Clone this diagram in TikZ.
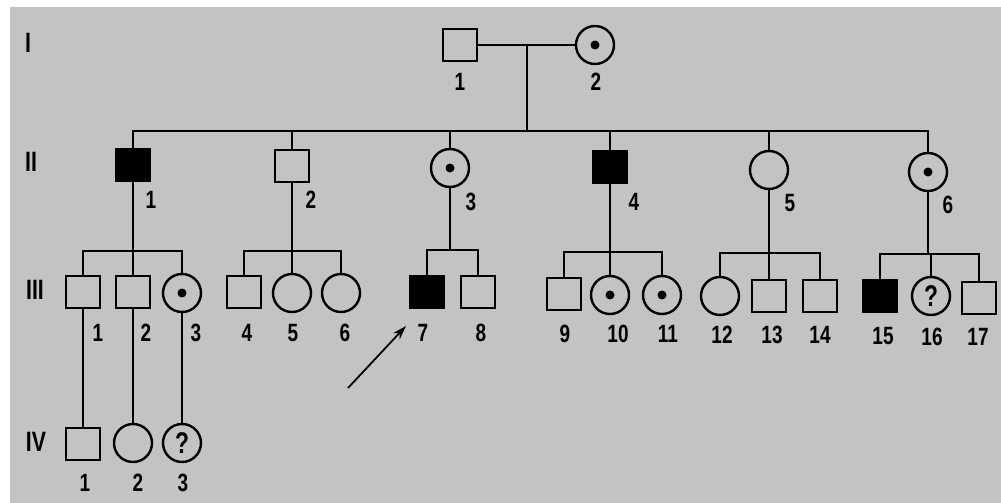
\documentclass[tikz,border=0pt]{standalone}
\usepackage{fontspec}
\usetikzlibrary{arrows.meta}
\newfontfamily\pedfont[FakeStretch=0.76]{Liberation Sans}
\definecolor{scangrey}{HTML}{C3C3C3}
\tikzset{person/.style = {draw, line width = 2.4pt, inner sep = 0pt},
    male/.style = {person, rectangle, minimum width = 34pt, minimum height = 32pt},
    female/.style = {person, circle, minimum size = 38pt},
    affected/.style = {fill = black},
    carrier/.style = {path picture = {\fill (path picture bounding box.center) circle (4.5pt);}},
    unknown/.style = {font = \pedfont\bfseries\fontsize{30}{30}\selectfont},
    link/.style = {line width = 1.8pt},
    thicklink/.style = {line width = 2.8pt},
    num/.style = {font = \pedfont\bfseries\fontsize{25}{25}\selectfont, inner sep = 0pt},
    gen/.style = {font = \pedfont\bfseries\fontsize{28}{28}\selectfont, inner sep = 0pt}
}

\begin{document}
\begin{tikzpicture}[x = 1pt, y = -1pt]

    \useasboundingbox (0,0) rectangle (1001,503);
    \fill[white] (0,0) rectangle (1001,503);
    \fill[scangrey] (10,7) rectangle (1001,503);

    % generation numbers
    \foreach \nm/\x/\y/\t in {gI/28/43/I, gII/31/162/II, gIII/35/290/III, gIV/36/442/IV}
        \node[gen] (\nm) at (\x,\y) {\t};

    % I
    \node[male] (I1) at (460,45) {};
    \node[female, carrier] (I2) at (595,45) {};

    % II
    \node[male, affected] (II1) at (133,165) {};
    \node[male] (II2) at (292,166) {};
    \node[female, carrier] (II3) at (450,168) {};
    \node[male, affected] (II4) at (610,167) {};
    \node[female] (II5) at (769,170) {};
    \node[female, carrier] (II6) at (928,172) {};

    % III
    \node[male] (III1) at (83,292) {};
    \node[male] (III2) at (133,292) {};
    \node[female, carrier] (III3) at (182,293) {};
    \node[male] (III4) at (244,292) {};
    \node[female] (III5) at (292,293) {};
    \node[female] (III6) at (341,293) {};
    \node[male, affected] (III7) at (427,292) {};
    \node[male] (III8) at (478,292) {};
    \node[male] (III9) at (564,294) {};
    \node[female, carrier] (III10) at (610,295) {};
    \node[female, carrier] (III11) at (662,295) {};
    \node[female] (III12) at (720,296) {};
    \node[male] (III13) at (769,296) {};
    \node[male] (III14) at (820,296) {};
    \node[male, affected] (III15) at (880,296) {};
    \node[female, unknown] (III16) at (931,296) {?};
    \node[male] (III17) at (979,298) {};

    % IV
    \node[male] (IV1) at (83,444) {};
    \node[female] (IV2) at (133,443) {};
    \node[female, unknown] (IV3) at (182,443) {?};

    % numbers
    \foreach \nm/\x/\y/\t in {nI1/460/82/1, nI2/596/82/2,
        nII1/151/200/1, nII2/311/200/2, nII3/471/202/3, nII4/634/202/4, nII5/790/203/5, nII6/948/205/6,
        nIII1/98/333/1, nIII2/146/333/2, nIII3/196/333/3, nIII4/247/333/4, nIII5/293/333/5, nIII6/345/333/6,
        nIII7/423/333/7, nIII8/481/333/8, nIII9/565/334/9, nIII10/618/334/10, nIII11/668/334/11,
        nIII12/722/335/12, nIII13/772/335/13, nIII14/820/335/14, nIII15/883/336/15, nIII16/932/337/16,
        nIII17/978/337/17, nIV1/85/483/1, nIV2/138/483/2, nIV3/183/483/3}
        \node[num] (\nm) at (\x,\y) {\t};

    % sibship lines
    \coordinate (sibII) at (527,131);
    \coordinate (fam1) at (133,251);
    \coordinate (fam2) at (292,251);
    \coordinate (fam3) at (450,250);
    \coordinate (fam4) at (610,252);
    \coordinate (fam5) at (769,253);
    \coordinate (fam6) at (928,254);

    \draw[link] (I1.east) -- (I2.west);
    \draw[link] (I1.east -| sibII) -- (sibII);
    \draw[link] (II1.north) |- (sibII) -| (II6.north);
    \foreach \c in {II2, II3, II4, II5}
        \draw[link] (\c.north) -- (\c.north |- sibII);

    \draw[link] (II1.south) -- (fam1);
    \draw[link] (III1.north) |- (fam1) -| (III3.north);
    \draw[link] (III2.north) -- (III2.north |- fam1);

    \draw[link] (II2.south) -- (fam2);
    \draw[link] (III4.north) |- (fam2) -| (III6.north);
    \draw[link] (III5.north) -- (III5.north |- fam2);

    \draw[thicklink] (II3.south) -- (fam3);
    \draw[thicklink] (III7.north) |- (fam3) -| (III8.north);

    \draw[link] (II4.south) -- (fam4);
    \draw[link] (III9.north) |- (fam4) -| (III11.north);
    \draw[link] (III10.north) -- (III10.north |- fam4);

    \draw[thicklink] (II5.south) -- (fam5);
    \draw[thicklink] (III12.north) |- (fam5) -| (III14.north);
    \draw[thicklink] (III13.north) -- (III13.north |- fam5);

    \draw[link] (II6.south) -- (fam6);
    \draw[thicklink] (III15.north) |- (fam6) -| (III17.north);
    \draw[link] (III16.north) -- (III16.north |- fam6);

    \draw[link] (III1.south) -- (IV1.north);
    \draw[link] (III2.south) -- (IV2.north);
    \draw[link] (III3.south) -- (IV3.north);

    % proband
    \coordinate (arrtail) at (348,388);
    \coordinate (arrtip) at (406,326);
    \draw[link, -{Stealth[length = 14pt, width = 9pt]}] (arrtail) -- (arrtip);

\end{tikzpicture}
\end{document}
